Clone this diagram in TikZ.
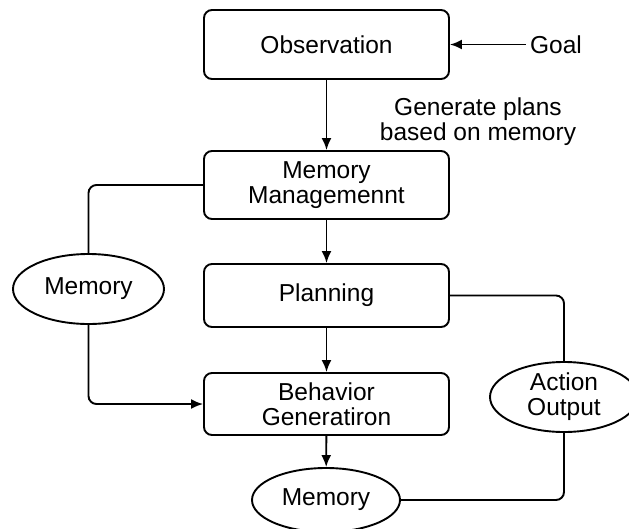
\documentclass[tikz,border=0pt]{standalone}
\usepackage{fontspec}
\setmainfont{Liberation Sans}
\usetikzlibrary{arrows.meta,shapes.geometric}

\begin{document}
\begin{tikzpicture}[x=1pt, y=-1pt, line width=1.9pt,
	every node/.style={font=\fontsize{24.5}{25}\selectfont, align=center},
	box/.style={draw, rounded corners=8pt, minimum width=245pt},
	oval/.style={draw, ellipse, inner sep=0pt},
	link/.style={rounded corners=8pt},
	arr/.style={-{Latex[length=12pt,width=10pt]}}]
	\useasboundingbox (0, 0) rectangle (629, 528);
	\node [box, minimum height=69pt] (obs) at (326.5, 44.5) {Observation};
	\node [box, minimum height=68pt] (mgmt) at (326.5, 185) {Memory\\Managemennt};
	\node [box, minimum height=63pt] (plan) at (326.5, 295.5) {Planning};
	\node [box, minimum height=62pt] (behav) at (326.5, 404) {Behavior\\Generatiron};
	\node [oval, minimum width=151pt, minimum height=70pt] (memL) at (88.5, 289) {Memory};
	\node [oval, minimum width=148pt, minimum height=64pt] (memB) at (326, 500) {Memory};
	\node [oval, minimum width=148pt, minimum height=70pt] (act) at (564, 397) {Action\\Output};
	\node (goal) at (556, 44.5) {Goal};
	\node (gen) at (478, 122) {Generate plans\\based on memory};
	\draw [arr] (goal) -- (obs);
	\draw [arr] (obs) -- (mgmt);
	\draw [arr] (mgmt) -- (plan);
	\draw [arr] (plan) -- (behav);
	\draw [arr] (behav) -- (memB);
	\draw [link] (mgmt.west) -| (memL.north);
	\draw [link, arr] (memL.south) |- (behav.west);
	\draw [link] (plan.east) -| (act.north);
	\draw [link] (memB.east) -| (act.south);
\end{tikzpicture}
\end{document}
